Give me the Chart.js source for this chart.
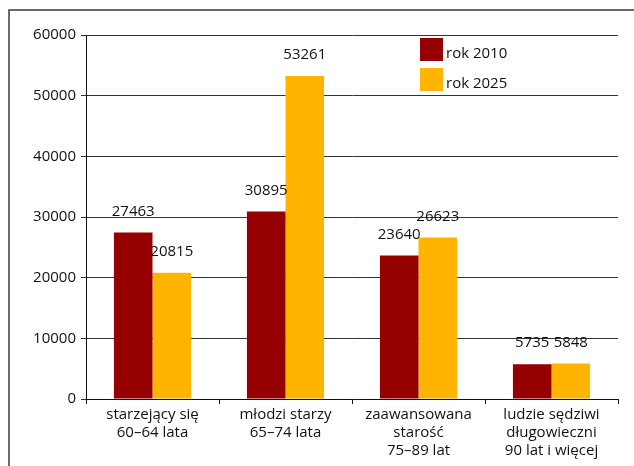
<!DOCTYPE html>
<html>
<head>
<meta charset="utf-8">
<script src="https://cdn.jsdelivr.net/npm/chart.js@4/dist/chart.umd.min.js"></script>
<style>
html,body{margin:0;padding:0;background:#fff;}
#wrap{width:634px;height:466px;position:relative;}
</style>
</head>
<body>
<div id="wrap"><canvas id="c" width="634" height="466"></canvas></div>
<script>
const categories = [
  ["starzejący się", "60–64 lata"],
  ["młodzi starzy", "65–74 lata"],
  ["zaawansowana", "starość", "75–89 lat"],
  ["ludzie sędziwi", "długowieczni", "90 lat i więcej"]
];
const seriesNames = ["rok 2010", "rok 2025"];
const values2010 = [27463, 30895, 23640, 5735];
const values2025 = [20815, 53261, 26623, 5848];
const yTicks = [0, 10000, 20000, 30000, 40000, 50000, 60000];

const RED = "#960000";
const YELLOW = "#FFB400";
const TEXT = "#111";
const FONT = "'Open Sans', 'Liberation Sans', sans-serif";

Chart.defaults.font.family = FONT;
Chart.defaults.font.size = 15;
Chart.defaults.color = TEXT;

const framePlugin = {
  id: "frame",
  beforeDraw(chart) {
    const ctx = chart.ctx;
    ctx.save();
    ctx.fillStyle = "#fff";
    ctx.fillRect(0, 0, chart.width, chart.height);
    ctx.strokeStyle = "#3a3a3a";
    ctx.lineWidth = 1.5;
    ctx.beginPath();
    ctx.moveTo(9, chart.height);
    ctx.lineTo(9, 10);
    ctx.lineTo(chart.width, 10);
    ctx.stroke();
    ctx.restore();
  }
};

const valueLabels = {
  id: "valueLabels",
  afterDatasetsDraw(chart) {
    const ctx = chart.ctx;
    ctx.save();
    ctx.font = "15px " + FONT;
    ctx.fillStyle = TEXT;
    ctx.textAlign = "center";
    ctx.textBaseline = "middle";
    chart.data.datasets.forEach((ds, i) => {
      chart.getDatasetMeta(i).data.forEach((bar, j) => {
        ctx.fillText(String(ds.data[j]), bar.x, bar.y - 21);
      });
    });
    ctx.restore();
  }
};

const boxLegend = {
  id: "boxLegend",
  afterDraw(chart) {
    const ctx = chart.ctx;
    ctx.save();
    ctx.font = "15px " + FONT;
    ctx.textAlign = "left";
    ctx.textBaseline = "middle";
    chart.data.datasets.forEach((ds, i) => {
      const y = 38 + i * 30;
      ctx.fillStyle = ds.backgroundColor;
      ctx.fillRect(420, y, 23, 23);
      ctx.fillStyle = TEXT;
      ctx.fillText(ds.label, 446, y + 16);
    });
    ctx.restore();
  }
};

new Chart(document.getElementById("c"), {
  type: "bar",
  data: {
    labels: categories,
    datasets: [
      { label: seriesNames[0], data: values2010, backgroundColor: RED },
      { label: seriesNames[1], data: values2025, backgroundColor: YELLOW }
    ]
  },
  options: {
    responsive: false,
    animation: false,
    devicePixelRatio: 1,
    layout: { padding: { left: 0, top: 35, right: 16, bottom: 0 } },
    datasets: { bar: { categoryPercentage: 0.58, barPercentage: 1.0 } },
    plugins: { legend: { display: false }, tooltip: { enabled: false } },
    scales: {
      x: {
        grid: { offset: true, drawOnChartArea: false, drawTicks: true, tickLength: 5, color: "#111", lineWidth: 1 },
        border: { display: true, color: "#111", width: 1 },
        ticks: { color: TEXT, padding: 2, font: { size: 15, lineHeight: 1.2 }, maxRotation: 0, autoSkip: false },
        afterFit(s) { s.height = 67; }
      },
      y: {
        min: 0, max: 60000,
        afterBuildTicks(s) { s.ticks = yTicks.map(v => ({ value: v })); },
        grid: { color: "#333", lineWidth: 1, drawTicks: true, tickLength: 5 },
        border: { display: true, color: "#111", width: 1 },
        ticks: { color: TEXT, padding: 5, font: { size: 15 }, callback: v => String(v) },
        afterFit(s) { s.width = 86; }
      }
    }
  },
  plugins: [framePlugin, valueLabels, boxLegend]
});
</script>
</body>
</html>
